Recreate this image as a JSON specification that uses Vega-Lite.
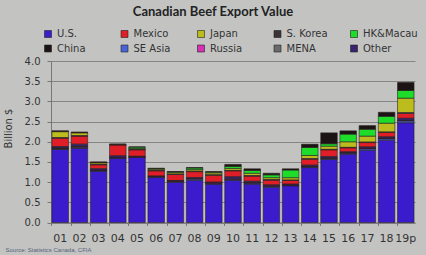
{
 "$schema": "https://vega.github.io/schema/vega-lite/v6.json",
 "width": 364, "height": 161.5,
 "autosize": "none",
 "padding": {"left": 51, "top": 61, "right": 11, "bottom": 32},
 "background": "#c3c4c2",
 "title": {"text": "Canadian Beef Export Value", "font": "Lato", "fontSize": 13, "fontWeight": "bold", "color": "#222222", "anchor": "middle", "frame": "group", "offset": 10, "dx": -20},
 "config": {"view": {"stroke": null}},
 "data": {"values": [
  {"year":"01","market":"U.S.","value":1.81},{"year":"01","market":"Mexico","value":0.21},{"year":"01","market":"Japan","value":0.15},{"year":"01","market":"S. Korea","value":0.03},{"year":"01","market":"HK&Macau","value":0.01},{"year":"01","market":"China","value":0.01},{"year":"01","market":"SE Asia","value":0.01},{"year":"01","market":"Russia","value":0},{"year":"01","market":"MENA","value":0.01},{"year":"01","market":"Other","value":0.03},
  {"year":"02","market":"U.S.","value":1.84},{"year":"02","market":"Mexico","value":0.2},{"year":"02","market":"Japan","value":0.07},{"year":"02","market":"S. Korea","value":0.04},{"year":"02","market":"HK&Macau","value":0.01},{"year":"02","market":"China","value":0.01},{"year":"02","market":"SE Asia","value":0.01},{"year":"02","market":"Russia","value":0},{"year":"02","market":"MENA","value":0.01},{"year":"02","market":"Other","value":0.05},
  {"year":"03","market":"U.S.","value":1.27},{"year":"03","market":"Mexico","value":0.1},{"year":"03","market":"Japan","value":0.04},{"year":"03","market":"S. Korea","value":0.02},{"year":"03","market":"HK&Macau","value":0.01},{"year":"03","market":"China","value":0.01},{"year":"03","market":"SE Asia","value":0.01},{"year":"03","market":"Russia","value":0},{"year":"03","market":"MENA","value":0.01},{"year":"03","market":"Other","value":0.03},
  {"year":"04","market":"U.S.","value":1.59},{"year":"04","market":"Mexico","value":0.27},{"year":"04","market":"Japan","value":0},{"year":"04","market":"S. Korea","value":0},{"year":"04","market":"HK&Macau","value":0.01},{"year":"04","market":"China","value":0},{"year":"04","market":"SE Asia","value":0.01},{"year":"04","market":"Russia","value":0.01},{"year":"04","market":"MENA","value":0.01},{"year":"04","market":"Other","value":0.04},
  {"year":"05","market":"U.S.","value":1.61},{"year":"05","market":"Mexico","value":0.16},{"year":"05","market":"Japan","value":0.02},{"year":"05","market":"S. Korea","value":0},{"year":"05","market":"HK&Macau","value":0.04},{"year":"05","market":"China","value":0},{"year":"05","market":"SE Asia","value":0.01},{"year":"05","market":"Russia","value":0.01},{"year":"05","market":"MENA","value":0.01},{"year":"05","market":"Other","value":0.01},
  {"year":"06","market":"U.S.","value":1.12},{"year":"06","market":"Mexico","value":0.13},{"year":"06","market":"Japan","value":0.03},{"year":"06","market":"S. Korea","value":0},{"year":"06","market":"HK&Macau","value":0.02},{"year":"06","market":"China","value":0},{"year":"06","market":"SE Asia","value":0.01},{"year":"06","market":"Russia","value":0.01},{"year":"06","market":"MENA","value":0.01},{"year":"06","market":"Other","value":0.01},
  {"year":"07","market":"U.S.","value":1.0},{"year":"07","market":"Mexico","value":0.15},{"year":"07","market":"Japan","value":0.04},{"year":"07","market":"S. Korea","value":0.01},{"year":"07","market":"HK&Macau","value":0.02},{"year":"07","market":"China","value":0},{"year":"07","market":"SE Asia","value":0.01},{"year":"07","market":"Russia","value":0.01},{"year":"07","market":"MENA","value":0.01},{"year":"07","market":"Other","value":0.01},
  {"year":"08","market":"U.S.","value":1.04},{"year":"08","market":"Mexico","value":0.15},{"year":"08","market":"Japan","value":0.04},{"year":"08","market":"S. Korea","value":0.01},{"year":"08","market":"HK&Macau","value":0.04},{"year":"08","market":"China","value":0.01},{"year":"08","market":"SE Asia","value":0.03},{"year":"08","market":"Russia","value":0.01},{"year":"08","market":"MENA","value":0.01},{"year":"08","market":"Other","value":0.02},
  {"year":"09","market":"U.S.","value":0.95},{"year":"09","market":"Mexico","value":0.17},{"year":"09","market":"Japan","value":0.05},{"year":"09","market":"S. Korea","value":0.01},{"year":"09","market":"HK&Macau","value":0.02},{"year":"09","market":"China","value":0.01},{"year":"09","market":"SE Asia","value":0.01},{"year":"09","market":"Russia","value":0.01},{"year":"09","market":"MENA","value":0.01},{"year":"09","market":"Other","value":0.02},
  {"year":"10","market":"U.S.","value":1.04},{"year":"10","market":"Mexico","value":0.15},{"year":"10","market":"Japan","value":0.05},{"year":"10","market":"S. Korea","value":0.01},{"year":"10","market":"HK&Macau","value":0.05},{"year":"10","market":"China","value":0.05},{"year":"10","market":"SE Asia","value":0.02},{"year":"10","market":"Russia","value":0.01},{"year":"10","market":"MENA","value":0.01},{"year":"10","market":"Other","value":0.05},
  {"year":"11","market":"U.S.","value":0.95},{"year":"11","market":"Mexico","value":0.13},{"year":"11","market":"Japan","value":0.06},{"year":"11","market":"S. Korea","value":0.01},{"year":"11","market":"HK&Macau","value":0.07},{"year":"11","market":"China","value":0.04},{"year":"11","market":"SE Asia","value":0.02},{"year":"11","market":"Russia","value":0.01},{"year":"11","market":"MENA","value":0.01},{"year":"11","market":"Other","value":0.03},
  {"year":"12","market":"U.S.","value":0.87},{"year":"12","market":"Mexico","value":0.12},{"year":"12","market":"Japan","value":0.05},{"year":"12","market":"S. Korea","value":0.01},{"year":"12","market":"HK&Macau","value":0.07},{"year":"12","market":"China","value":0.04},{"year":"12","market":"SE Asia","value":0.02},{"year":"12","market":"Russia","value":0.01},{"year":"12","market":"MENA","value":0.01},{"year":"12","market":"Other","value":0.02},
  {"year":"13","market":"U.S.","value":0.91},{"year":"13","market":"Mexico","value":0.09},{"year":"13","market":"Japan","value":0.06},{"year":"13","market":"S. Korea","value":0.01},{"year":"13","market":"HK&Macau","value":0.19},{"year":"13","market":"China","value":0.03},{"year":"13","market":"SE Asia","value":0.01},{"year":"13","market":"Russia","value":0},{"year":"13","market":"MENA","value":0.01},{"year":"13","market":"Other","value":0.02},
  {"year":"14","market":"U.S.","value":1.36},{"year":"14","market":"Mexico","value":0.15},{"year":"14","market":"Japan","value":0.08},{"year":"14","market":"S. Korea","value":0.02},{"year":"14","market":"HK&Macau","value":0.2},{"year":"14","market":"China","value":0.08},{"year":"14","market":"SE Asia","value":0.01},{"year":"14","market":"Russia","value":0},{"year":"14","market":"MENA","value":0.01},{"year":"14","market":"Other","value":0.03},
  {"year":"15","market":"U.S.","value":1.56},{"year":"15","market":"Mexico","value":0.17},{"year":"15","market":"Japan","value":0.08},{"year":"15","market":"S. Korea","value":0.02},{"year":"15","market":"HK&Macau","value":0.06},{"year":"15","market":"China","value":0.27},{"year":"15","market":"SE Asia","value":0.02},{"year":"15","market":"Russia","value":0},{"year":"15","market":"MENA","value":0.01},{"year":"15","market":"Other","value":0.03},
  {"year":"16","market":"U.S.","value":1.69},{"year":"16","market":"Mexico","value":0.1},{"year":"16","market":"Japan","value":0.14},{"year":"16","market":"S. Korea","value":0.02},{"year":"16","market":"HK&Macau","value":0.19},{"year":"16","market":"China","value":0.08},{"year":"16","market":"SE Asia","value":0.02},{"year":"16","market":"Russia","value":0},{"year":"16","market":"MENA","value":0.01},{"year":"16","market":"Other","value":0.02},
  {"year":"17","market":"U.S.","value":1.79},{"year":"17","market":"Mexico","value":0.11},{"year":"17","market":"Japan","value":0.15},{"year":"17","market":"S. Korea","value":0.02},{"year":"17","market":"HK&Macau","value":0.17},{"year":"17","market":"China","value":0.09},{"year":"17","market":"SE Asia","value":0.03},{"year":"17","market":"Russia","value":0},{"year":"17","market":"MENA","value":0.01},{"year":"17","market":"Other","value":0.03},
  {"year":"18","market":"U.S.","value":2.04},{"year":"18","market":"Mexico","value":0.11},{"year":"18","market":"Japan","value":0.22},{"year":"18","market":"S. Korea","value":0.02},{"year":"18","market":"HK&Macau","value":0.17},{"year":"18","market":"China","value":0.1},{"year":"18","market":"SE Asia","value":0.03},{"year":"18","market":"Russia","value":0},{"year":"18","market":"MENA","value":0.01},{"year":"18","market":"Other","value":0.03},
  {"year":"19p","market":"U.S.","value":2.47},{"year":"19p","market":"Mexico","value":0.12},{"year":"19p","market":"Japan","value":0.36},{"year":"19p","market":"S. Korea","value":0.02},{"year":"19p","market":"HK&Macau","value":0.19},{"year":"19p","market":"China","value":0.2},{"year":"19p","market":"SE Asia","value":0.04},{"year":"19p","market":"Russia","value":0},{"year":"19p","market":"MENA","value":0.02},{"year":"19p","market":"Other","value":0.05}
 ]},
 "mark": {"type": "bar", "stroke": "#2a2020", "strokeWidth": 0.6},
 "encoding": {
  "x": {"field": "year", "type": "ordinal", "sort": null,
        "scale": {"paddingInner": 0.14, "paddingOuter": 0.05},
        "axis": {"title": "Source: Statistics Canada, CFIA", "titleFont": "Liberation Sans", "titleFontSize": 6, "titleFontWeight": "normal", "titleColor": "#56627a", "titleAnchor": "start", "titleAlign": "left", "titleBaseline": "middle", "titleX": -46, "titleY": 27,
                 "labelAngle": 0, "labelFont": "DejaVu Sans", "labelFontSize": 11, "labelColor": "#333333", "labelPadding": 7,
                 "domainColor": "#777777", "tickColor": "#777777", "tickSize": 3, "bandPosition": 0, "grid": false}},
  "y": {"field": "value", "type": "quantitative", "aggregate": "sum",
        "scale": {"domain": [0, 4], "nice": false},
        "axis": {"title": "Billion $", "titleFont": "DejaVu Sans", "titleFontSize": 10, "titleFontWeight": "normal", "titleColor": "#333333", "titleX": -43, "titleY": 67, "titleAngle": -90, "titleAlign": "center", "titleBaseline": "middle",
                 "values": [0, 0.5, 1, 1.5, 2, 2.5, 3, 3.5, 4], "format": ".1f",
                 "labelFont": "DejaVu Sans", "labelFontSize": 10, "labelColor": "#333333", "labelPadding": 7,
                 "tickSize": 4, "tickColor": "#777777", "domainColor": "#777777",
                 "gridColor": "#858585", "gridWidth": 1}},
  "color": {"field": "market", "type": "nominal",
        "sort": ["U.S.", "Mexico", "Japan", "S. Korea", "HK&Macau", "China", "SE Asia", "Russia", "MENA", "Other"],
        "scale": {"domain": ["U.S.", "Mexico", "Japan", "S. Korea", "HK&Macau", "China", "SE Asia", "Russia", "MENA", "Other"],
                  "range": ["#3a1ccc", "#e01e28", "#bcbc1c", "#3c3434", "#1edc2a", "#1c1414", "#4a64d8", "#d830b4", "#6a6a6a", "#3a2470"]},
        "legend": {"title": null, "orient": "none", "legendX": -8, "legendY": -32, "direction": "horizontal", "columns": 5,
                   "symbolType": "square", "symbolSize": 49, "symbolStrokeColor": "#222222", "symbolStrokeWidth": 0.6,
                   "labelFont": "DejaVu Sans", "labelFontSize": 10, "labelColor": "#333333", "labelOffset": 4,
                   "gridAlign": "all", "columnPadding": 7.5, "rowPadding": 4.5, "padding": 0}}
 }
}
